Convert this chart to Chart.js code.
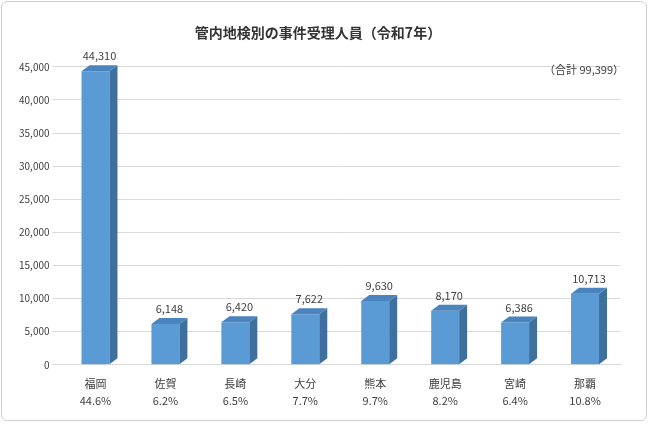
<!DOCTYPE html>
<html><head><meta charset="utf-8">
<script src="https://cdn.jsdelivr.net/npm/chart.js@4/dist/chart.umd.min.js"></script>
<style>
html,body{margin:0;padding:0;background:#fff;}
#wrap{position:absolute;left:1px;top:1px;width:646px;height:420px;border:1px solid #d0d0d0;border-radius:6px;box-sizing:border-box;}
canvas{position:absolute;left:0;top:0;}
</style></head>
<body>
<div id="wrap"><canvas id="chart" width="646" height="420"></canvas></div>
<script>
const categories = ['福岡', '佐賀', '長崎', '大分', '熊本', '鹿児島', '宮崎', '那覇'];
const shares = ['44.6%', '6.2%', '6.5%', '7.7%', '9.7%', '8.2%', '6.4%', '10.8%'];
const counts = [44310, 6148, 6420, 7622, 9630, 8170, 6386, 10713];
const totalLabel = '（合計 99,399）';

const FONT = '"Noto Sans CJK JP", "Noto Sans", sans-serif';
const DX = 8, DY = 6;

const bar3d = {
  id: 'bar3d',
  afterDatasetsDraw(chart) {
    const ctx = chart.ctx;
    const meta = chart.getDatasetMeta(0);
    ctx.save();
    meta.data.forEach((bar, i) => {
      const l = bar.x - bar.width / 2, r = bar.x + bar.width / 2;
      const t = bar.y, b = bar.base;
      ctx.fillStyle = '#3f6f9c';
      ctx.beginPath();
      ctx.moveTo(r, t); ctx.lineTo(r + DX, t - DY); ctx.lineTo(r + DX, b - DY); ctx.lineTo(r, b);
      ctx.closePath(); ctx.fill();
      ctx.fillStyle = '#4a83bd';
      ctx.beginPath();
      ctx.moveTo(l, t); ctx.lineTo(l + DX, t - DY); ctx.lineTo(r + DX, t - DY); ctx.lineTo(r, t);
      ctx.closePath(); ctx.fill();
      ctx.fillStyle = '#404040';
      ctx.font = '11px ' + FONT;
      ctx.textAlign = 'center';
      ctx.fillText(counts[i].toLocaleString('en-US'), bar.x + DX / 2, t - DY - 5);
    });
    ctx.font = '11px ' + FONT;
    ctx.textAlign = 'right';
    ctx.fillStyle = '#404040';
    ctx.fillText(totalLabel, 622, 72);
    ctx.restore();
  }
};

new Chart(document.getElementById('chart'), {
  type: 'bar',
  data: {
    labels: categories.map((c, i) => [c, shares[i]]),
    datasets: [{ data: counts, backgroundColor: '#5b9bd5', categoryPercentage: 1, barPercentage: 0.4 }]
  },
  options: {
    responsive: false,
    animation: false,
    layout: { padding: { left: 14, right: 28, top: 8, bottom: 10 } },
    plugins: {
      legend: { display: false },
      tooltip: { enabled: false },
      title: {
        display: true, text: '管内地検別の事件受理人員（令和7年）',
        color: '#333', font: { family: FONT, size: 14, weight: 'bold' },
        padding: { top: 14, bottom: 26 }
      }
    },
    scales: {
      y: {
        min: 0, max: 45000,
        ticks: { stepSize: 5000, color: '#404040', font: { family: FONT, size: 10 },
          callback: v => v.toLocaleString('en-US') },
        grid: { color: '#d9d9d9' },
        border: { display: false }
      },
      x: {
        ticks: { color: '#404040', padding: 2, font: { family: FONT, size: 11, lineHeight: 1.6 } },
        grid: { display: false },
        border: { color: '#d9d9d9' }
      }
    }
  },
  plugins: [bar3d]
});
</script>
</body></html>
